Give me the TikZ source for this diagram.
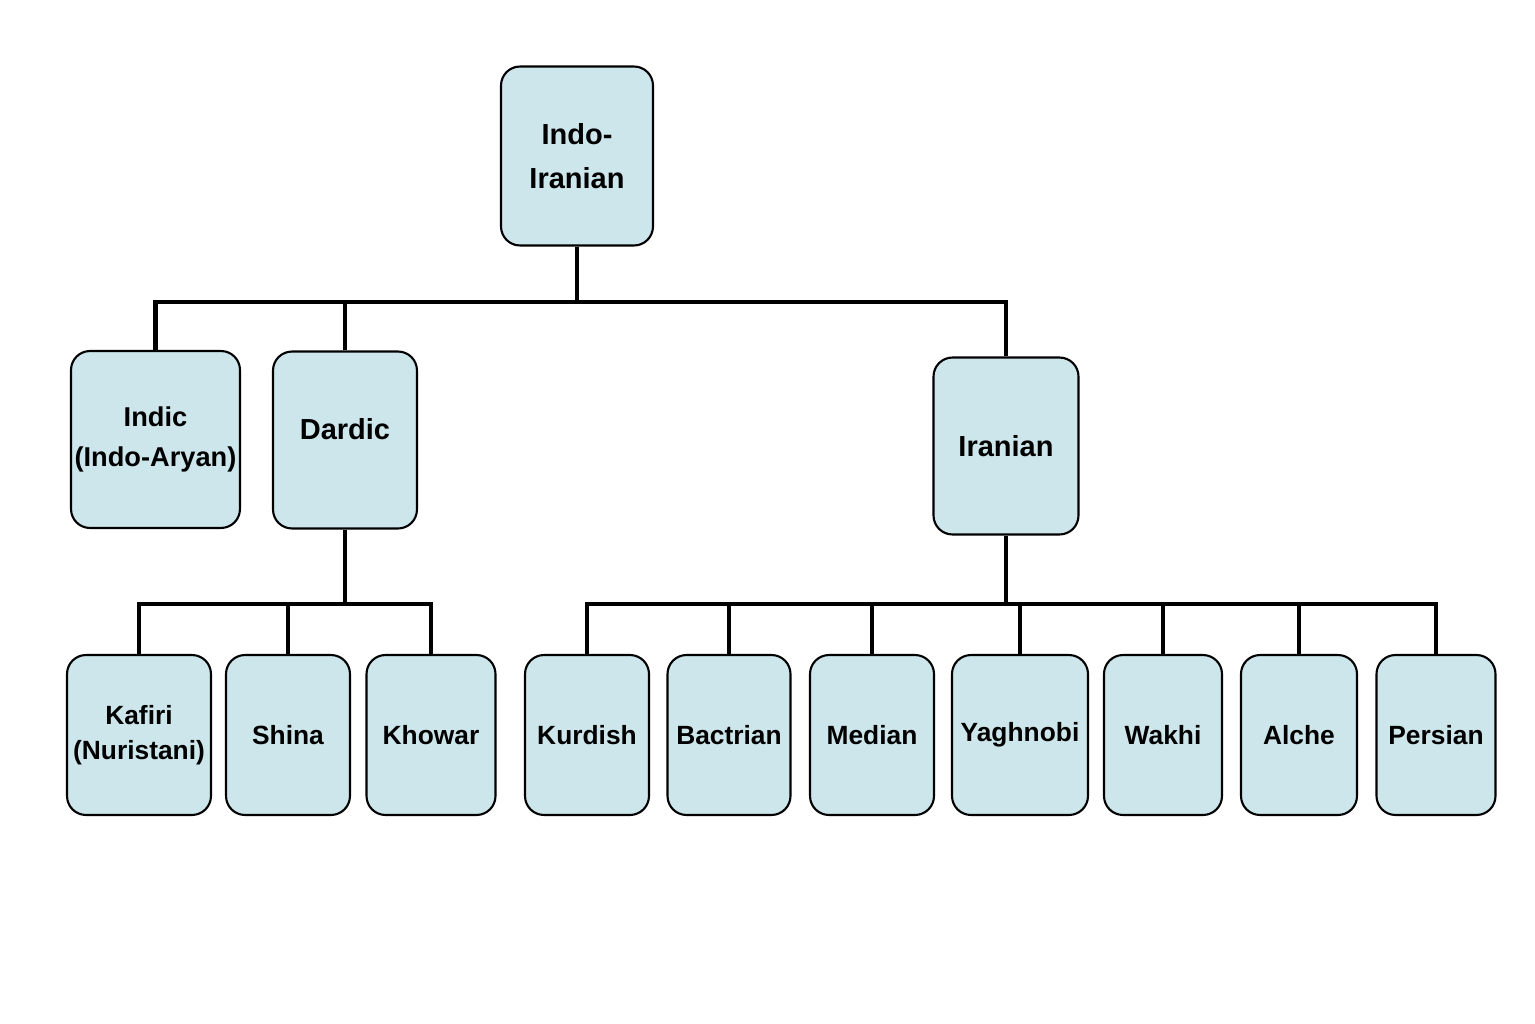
\documentclass[tikz,border=0pt]{standalone}
\usepackage{fontspec}
\setmainfont{Liberation Sans}
\usetikzlibrary{positioning,calc}

\begin{document}
\begin{tikzpicture}[x=0.02cm,y=-0.02cm,
    langbox/.style={draw=black, line width=1.2pt, fill=cyan!15!blue!8!white, fill=lightblue, rounded corners=0.38cm, align=center, font=\bfseries\fontsize{15}{20}\selectfont, inner sep=0pt},
    tree/.style={line width=2.8pt}]
\definecolor{lightblue}{RGB}{204,230,235}
\useasboundingbox (0,0) rectangle (1535,1024);
% top levels
\node[langbox, minimum width=3.04cm, minimum height=3.58cm, font=\bfseries\fontsize{16.5}{25}\selectfont] (root) at (577,156) {Indo-\\Iranian};
\node[langbox, minimum width=3.38cm, minimum height=3.54cm, font=\bfseries\fontsize{15.5}{23}\selectfont] (indic) at (155.5,439.5) {Indic\\(Indo-Aryan)};
\node[langbox, minimum width=2.88cm, minimum height=3.54cm, font=\bfseries\fontsize{16.5}{20}\selectfont] (dardic) at (345,440) {\raisebox{0.45cm}{Dardic}};
\node[langbox, minimum width=2.9cm, minimum height=3.54cm, font=\bfseries\fontsize{16.5}{20}\selectfont] (iranian) at (1006,446) {Iranian};
% bottom row
\foreach \name/\x/\w/\txt in {kafiri/139/2.88/{Kafiri\\(Nuristani)}, shina/288/2.48/Shina, khowar/431/2.58/Khowar,
    kurdish/587/2.48/Kurdish, bactrian/729/2.46/Bactrian, median/872/2.48/Median, yaghnobi/1020/2.72/Yaghnobi,
    wakhi/1163/2.36/Wakhi, alche/1299/2.32/Alche, persian/1436/2.38/Persian}
  \node[langbox, minimum width=\w cm, minimum height=3.2cm] (\name) at (\x,735) {\txt};
% connectors
\coordinate (bus1) at (577,302);
\coordinate (bus2) at (345,604);
\coordinate (bus3) at (1006,604);
\draw[tree] (root.south) -- (bus1);
\draw[tree] (indic.north) |- (bus1) -| (iranian.north);
\draw[tree] (dardic.north) -- (dardic.north |- bus1);
\draw[tree] (dardic.south) -- (bus2);
\draw[tree] (kafiri.north) |- (bus2) -| (khowar.north);
\draw[tree] (shina.north) -- (shina.north |- bus2);
\draw[tree] (iranian.south) -- (bus3);
\draw[tree] (kurdish.north) |- (bus3) -| (persian.north);
\foreach \name in {bactrian,median,yaghnobi,wakhi,alche}
  \draw[tree] (\name.north) -- (\name.north |- bus3);
\end{tikzpicture}
\end{document}
